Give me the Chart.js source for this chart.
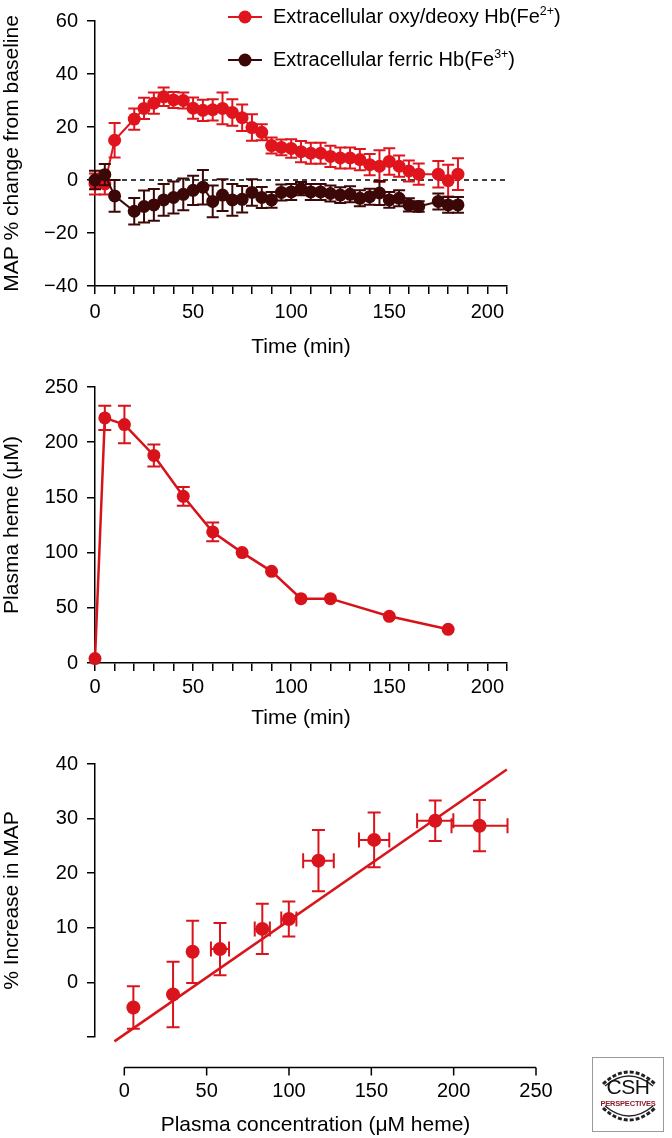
<!DOCTYPE html>
<html>
<head>
<meta charset="utf-8">
<title>Extracellular Hb and blood pressure</title>
<script src="https://cdn.jsdelivr.net/npm/chart.js@4.4.0/dist/chart.umd.min.js"></script>
<style>
  html, body { margin: 0; padding: 0; background: #fff; }
  body { position: relative; width: 672px; height: 1138px; overflow: hidden; font-family: 'Liberation Sans', Arial, sans-serif; }
  canvas { position: absolute; left: 0; }
  #mapChart  { top: 0; }
  #hemeChart { top: 360px; }
  #doseChart { top: 740px; }
  #logo { position: absolute; left: 592px; top: 1057px; width: 72px; height: 75px; border: 1.5px solid #9a9a9a; box-sizing: border-box; }
  #logo svg { position: absolute; left: 0; top: 0; }
  #logo .csh { position: absolute; left: 0; width: 100%; top: 17px; text-align: center; font-size: 21px; color: #111; letter-spacing: -0.5px; }
  #logo .persp { position: absolute; left: 0; width: 100%; top: 41px; text-align: center; font-size: 7.5px; font-weight: bold; color: #8c1c2c; letter-spacing: -0.2px; }
</style>
</head>
<body>
<canvas id="mapChart" width="672" height="360"></canvas>
<canvas id="hemeChart" width="672" height="380"></canvas>
<canvas id="doseChart" width="672" height="398"></canvas>
<div id="logo">
  <svg width="72" height="75">
    <path d="M10 26 Q36 2 62 26" fill="none" stroke="#222" stroke-width="3" stroke-dasharray="4 2"/>
    <path d="M12 28 Q36 8 60 28" fill="none" stroke="#222" stroke-width="1.5"/>
    <path d="M10 50 Q36 74 62 50" fill="none" stroke="#222" stroke-width="3" stroke-dasharray="4 2"/>
    <path d="M12 48 Q36 68 60 48" fill="none" stroke="#222" stroke-width="1.5"/>
  </svg>
  <div class="csh">CSH</div>
  <div class="persp">PERSPECTIVES</div>
</div>

<script>
// ── DATA ─────────────────────────────────────────────────────
// top panel: MAP % change from baseline vs time (min)
const mapTimes  = [0,5,10,20,25,30,35,40,45,50,55,60,65,70,75,80,85,90,95,100,105,110,115,120,125,130,135,140,145,150,155,160,165,175,180,185];
const mapFe2    = [-1.5,-1.5,15,23,27,29,31.4,30.2,30,27.1,26.3,26.5,27,25.5,23.5,19.8,18,13,12.3,11.9,10.7,10.1,10.1,8.9,8.3,8.3,7.7,5.8,5.2,7,5.2,3.4,2.2,2.2,-0.2,2.2];
const mapFe2Err = [4,4,6.5,4,4,4,3.5,3,3,4,4,4,6,5,5,5,3,3,3,3.5,4,4,4,4,4,4,4,4,6,5,4,4,4,5,6,6];
const mapFe3    = [0,2,-6,-11.8,-10,-9.4,-7.5,-6.6,-5.4,-3.9,-2.7,-8.1,-5.7,-7.5,-7.3,-4.7,-6.6,-7.5,-4.7,-4.5,-3.3,-4.5,-4.5,-5.1,-5.7,-5.4,-6.9,-6.3,-4.9,-7.5,-6.9,-9.4,-10,-8.1,-9.4,-9.4];
const mapFe3Err = [3.5,4,6,5,6,6,6,6,6,5.5,6.5,6,6,6,5,5,4,3,3,3,2.5,3,3,3,3,3,3,3,4.5,3,3,2.5,2,3,3,3];
const mapBaseX  = [0, 210];
const mapBaseY  = [0, 0];
const mapXLabels = [0, 50, 100, 150, 200];

// middle panel: plasma heme (uM) vs time (min)
const hemeTimes = [0,5,15,30,45,60,75,90,105,120,150,180];
const hemeConc  = [4,222,216,188,151,118.7,100,83,58.3,58.3,42.3,30.5];
const hemeErr   = [0,11,17,10,8.5,8.5,0,0,0,0,0,0];
const hemeXLabels = [0, 50, 100, 150, 200];

// bottom panel: % increase in MAP vs plasma heme
const doseConc    = [5.5,29.6,41.5,58.1,83.8,99.9,117.9,151.7,188.8,215.7];
const doseConcErr = [0,0,0,5.5,4.6,4.6,9.3,9.2,11,17];
const doseMap     = [-4.6,-2.2,5.6,6.1,9.8,11.6,22.3,26.1,29.6,28.7];
const doseMapErr  = [3.9,6,5.7,4.8,4.6,3.2,5.6,5,3.7,4.7];
const fitConc     = [-6, 232.3];
const fitMap      = [-10.8, 39];
const doseXTicks  = [0, 50, 100, 150, 200, 250];

// ── STYLE ────────────────────────────────────────────────────
const FONT = "'Liberation Sans', Arial, Helvetica, sans-serif";
const RED  = '#e0141c';
const DARK = '#3c0707';
const INK  = '#000';

const pts = (xs, ys) => xs.map((x, i) => ({ x, y: ys[i] }));
const minus = v => v < 0 ? '\u2212' + Math.abs(v) : String(v);

// ── PLUGINS ──────────────────────────────────────────────────
// error bars, drawn just under each dataset's own points
const errorBars = {
  id: 'errorBars',
  beforeDatasetDraw(chart, args, opts) {
    const ds = chart.data.datasets[args.index];
    if (!ds.errY && !ds.errX) return;
    const xs = chart.scales.x, ys = chart.scales.y, ctx = chart.ctx;
    ctx.save();
    ctx.strokeStyle = ds.borderColor;
    ctx.lineWidth = opts.width;
    ds.data.forEach((p, i) => {
      const px = xs.getPixelForValue(p.x), py = ys.getPixelForValue(p.y);
      const ey = ds.errY ? ds.errY[i] : 0;
      const ex = ds.errX ? ds.errX[i] : 0;
      ctx.beginPath();
      if (ey) {
        const top = ys.getPixelForValue(p.y + ey), bot = ys.getPixelForValue(p.y - ey);
        const c = opts.capY / 2;
        ctx.moveTo(px, top); ctx.lineTo(px, bot);
        ctx.moveTo(px - c, top); ctx.lineTo(px + c, top);
        ctx.moveTo(px - c, bot); ctx.lineTo(px + c, bot);
      }
      if (ex) {
        const lo = xs.getPixelForValue(p.x - ex), hi = xs.getPixelForValue(p.x + ex);
        const c = opts.capX / 2;
        ctx.moveTo(lo, py); ctx.lineTo(hi, py);
        ctx.moveTo(lo, py - c); ctx.lineTo(lo, py + c);
        ctx.moveTo(hi, py - c); ctx.lineTo(hi, py + c);
      }
      ctx.stroke();
    });
    ctx.restore();
  }
};

// superscript-aware text (², ³, ⁺ drawn small and raised)
const SUP = { '\u00b2': '2', '\u00b3': '3', '\u207a': '+' };
function drawRichText(ctx, text, x, y, size) {
  const runs = [];
  for (const ch of text) {
    const sup = ch in SUP;
    const last = runs[runs.length - 1];
    if (last && last.sup === sup) last.text += sup ? SUP[ch] : ch;
    else runs.push({ sup, text: sup ? SUP[ch] : ch });
  }
  let cx = x;
  runs.forEach(r => {
    ctx.font = (r.sup ? size * 0.62 : size) + 'px ' + FONT;
    ctx.fillText(r.text, cx, r.sup ? y - size * 0.28 : y);
    cx += ctx.measureText(r.text).width;
  });
}

// legend with a line-through-dot marker, one row per labelled dataset
const lineLegend = {
  id: 'lineLegend',
  afterDraw(chart, args, opts) {
    const ctx = chart.ctx;
    ctx.save();
    ctx.textBaseline = 'middle';
    let row = 0;
    chart.data.datasets.forEach(ds => {
      if (!ds.label) return;
      const y = opts.y + row * opts.rowGap;
      row++;
      ctx.strokeStyle = ds.borderColor;
      ctx.lineWidth = 2;
      ctx.beginPath();
      ctx.moveTo(opts.x, y);
      ctx.lineTo(opts.x + opts.lineLen, y);
      ctx.stroke();
      ctx.fillStyle = ds.pointBackgroundColor;
      ctx.beginPath();
      ctx.arc(opts.x + opts.lineLen / 2, y, opts.radius, 0, Math.PI * 2);
      ctx.fill();
      ctx.fillStyle = INK;
      drawRichText(ctx, ds.label, opts.x + opts.lineLen + opts.gap, y, opts.size);
    });
    ctx.restore();
  }
};

// detached x axis (drawn below the plot, starting at 0)
const offsetXAxis = {
  id: 'offsetXAxis',
  afterDraw(chart, args, opts) {
    const xs = chart.scales.x, ctx = chart.ctx;
    const y = chart.chartArea.bottom + opts.gap;
    const vals = xs.ticks.map(t => t.value);
    ctx.save();
    ctx.strokeStyle = INK;
    ctx.lineWidth = 1.5;
    ctx.beginPath();
    ctx.moveTo(xs.getPixelForValue(vals[0]), y);
    ctx.lineTo(xs.getPixelForValue(vals[vals.length - 1]), y);
    vals.forEach(v => {
      const px = xs.getPixelForValue(v);
      ctx.moveTo(px, y);
      ctx.lineTo(px, y + opts.tickLength);
    });
    ctx.stroke();
    ctx.restore();
  }
};

// ── SHARED AXIS PIECES ───────────────────────────────────────
const tickFont  = { family: FONT, size: 20 };
const titleFont = { family: FONT, size: 21 };
const axisGrid  = { drawOnChartArea: false, drawTicks: true, tickLength: 8, color: INK, lineWidth: 1.5 };
const axisLine  = { display: true, color: INK, width: 1.5 };

function baseOptions(padding) {
  return {
    responsive: false,
    animation: false,
    events: [],
    layout: { autoPadding: false, padding },
    plugins: { legend: { display: false }, tooltip: { enabled: false } },
  };
}

Chart.defaults.font.family = FONT;
Chart.defaults.color = INK;

// ── TOP: MAP % change ────────────────────────────────────────
const mapOpts = baseOptions({ left: 0, right: 165, top: 12, bottom: 0 });
mapOpts.plugins.errorBars = { capY: 12, capX: 12, width: 2 };
mapOpts.plugins.lineLegend = { x: 228, y: 17, rowGap: 43, lineLen: 34, radius: 6.5, gap: 11, size: 20 };
mapOpts.scales = {
  x: {
    type: 'linear', min: 0, max: 210,
    afterFit: s => { s.height = 74; },
    grid: axisGrid, border: axisLine,
    ticks: { stepSize: 10, autoSkip: false, maxRotation: 0, padding: 6, font: tickFont, color: INK,
             callback: v => mapXLabels.includes(v) ? String(v) : '' },
    title: { display: true, text: 'Time (min)', font: titleFont, color: INK, padding: { top: 0, bottom: 0 } }
  },
  y: {
    type: 'linear', min: -40, max: 60,
    afterFit: s => { s.width = 95; },
    grid: axisGrid, border: axisLine,
    ticks: { stepSize: 20, padding: 9, font: tickFont, color: INK, callback: minus },
    title: { display: true, text: 'MAP % change from baseline', font: titleFont, color: INK, padding: { top: 0, bottom: 0 } }
  }
};

new Chart(document.getElementById('mapChart'), {
  type: 'line',
  data: {
    datasets: [
      {
        label: 'Extracellular oxy/deoxy Hb(Fe\u00b2\u207a)',
        data: pts(mapTimes, mapFe2), errY: mapFe2Err,
        borderColor: RED, backgroundColor: RED, pointBackgroundColor: RED,
        borderWidth: 2, pointRadius: 6.5, pointBorderWidth: 0, clip: false, order: 1
      },
      {
        label: 'Extracellular ferric Hb(Fe\u00b3\u207a)',
        data: pts(mapTimes, mapFe3), errY: mapFe3Err,
        borderColor: DARK, backgroundColor: DARK, pointBackgroundColor: DARK,
        borderWidth: 2, pointRadius: 6.5, pointBorderWidth: 0, clip: false, order: 0
      },
      {
        data: pts(mapBaseX, mapBaseY),
        borderColor: INK, borderWidth: 1.3, borderDash: [5, 4], pointRadius: 0, clip: false, order: 2
      }
    ]
  },
  options: mapOpts,
  plugins: [errorBars, lineLegend]
});

// ── MIDDLE: plasma heme ──────────────────────────────────────
const hemeOpts = baseOptions({ left: 0, right: 165, top: 27, bottom: 0 });
hemeOpts.plugins.errorBars = { capY: 13, capX: 13, width: 2 };
hemeOpts.scales = {
  x: {
    type: 'linear', min: 0, max: 210,
    afterFit: s => { s.height = 77; },
    grid: axisGrid, border: axisLine,
    ticks: { stepSize: 10, autoSkip: false, maxRotation: 0, padding: 4, font: tickFont, color: INK,
             callback: v => hemeXLabels.includes(v) ? String(v) : '' },
    title: { display: true, text: 'Time (min)', font: titleFont, color: INK, padding: { top: 0, bottom: 9 } }
  },
  y: {
    type: 'linear', min: 0, max: 250,
    afterFit: s => { s.width = 95; },
    grid: axisGrid, border: axisLine,
    ticks: { stepSize: 50, padding: 9, font: tickFont, color: INK },
    title: { display: true, text: 'Plasma heme (\u03bcM)', font: titleFont, color: INK, padding: { top: 0, bottom: 0 } }
  }
};

new Chart(document.getElementById('hemeChart'), {
  type: 'line',
  data: {
    datasets: [{
      data: pts(hemeTimes, hemeConc), errY: hemeErr,
      borderColor: '#d8121a', pointBackgroundColor: '#d8121a', backgroundColor: '#d8121a',
      borderWidth: 2.5, pointRadius: 6.5, pointBorderWidth: 0, clip: false
    }]
  },
  options: hemeOpts,
  plugins: [errorBars]
});

// ── BOTTOM: dose response ────────────────────────────────────
const doseOpts = baseOptions({ left: 0, right: 136, top: 24, bottom: 0 });
doseOpts.plugins.errorBars = { capY: 13, capX: 15, width: 2 };
doseOpts.plugins.offsetXAxis = { gap: 30.5, tickLength: 8 };
doseOpts.scales = {
  x: {
    type: 'linear', min: -17.8, max: 250,
    afterFit: s => { s.height = 101; },
    afterBuildTicks: s => { s.ticks = doseXTicks.map(v => ({ value: v })); },
    grid: { display: false, drawTicks: false },
    border: { display: false },
    ticks: { autoSkip: false, maxRotation: 0, padding: 42, font: tickFont, color: INK },
    title: { display: true, text: 'Plasma concentration (\u03bcM heme)', font: titleFont, color: INK, padding: { top: 0, bottom: 0 } }
  },
  y: {
    type: 'linear', min: -10, max: 40,
    afterFit: s => { s.width = 95; },
    grid: axisGrid, border: axisLine,
    ticks: { stepSize: 10, padding: 9, font: tickFont, color: INK, callback: v => v === -10 ? '' : String(v) },
    title: { display: true, text: '% Increase in MAP', font: titleFont, color: INK, padding: { top: 0, bottom: 0 } }
  }
};

new Chart(document.getElementById('doseChart'), {
  type: 'line',
  data: {
    datasets: [
      {
        data: pts(doseConc, doseMap), errY: doseMapErr, errX: doseConcErr,
        showLine: false,
        borderColor: '#da141c', pointBackgroundColor: '#da141c', backgroundColor: '#da141c',
        pointRadius: 7, pointBorderWidth: 0, clip: false
      },
      {
        data: pts(fitConc, fitMap),
        borderColor: '#da141c', borderWidth: 2.5, pointRadius: 0, clip: false
      }
    ]
  },
  options: doseOpts,
  plugins: [errorBars, offsetXAxis]
});
</script>
</body>
</html>
